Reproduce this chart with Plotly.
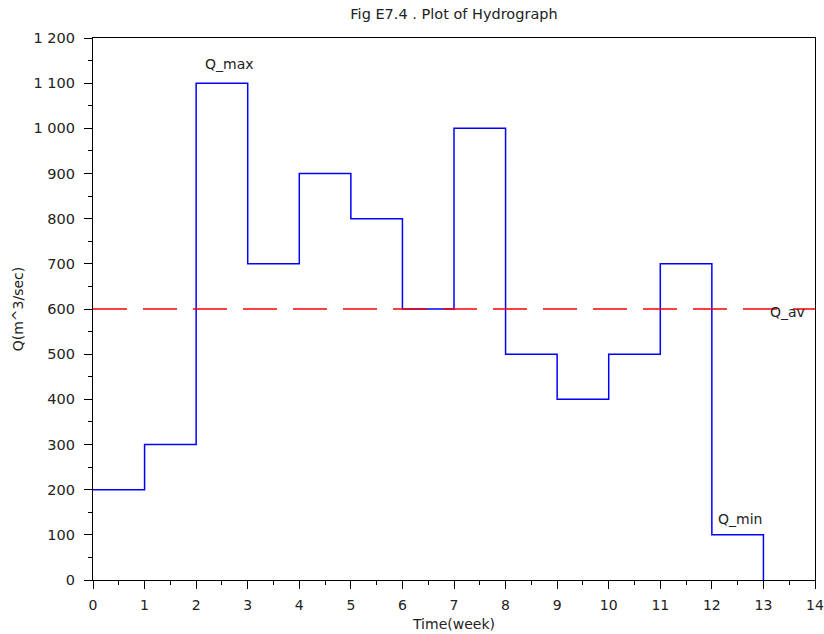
import plotly.graph_objects as go

weeks = [0, 1, 2, 3, 4, 5, 6, 7, 8, 9, 10, 11, 12, 13]
flows = [200, 300, 1100, 700, 900, 800, 600, 1000, 500, 400, 500, 700, 100, 0]
q_av = 600
avg_x = [0, 14]
labels = ["Q_max", "Q_min", "Q_av"]
label_x = [2.64, 12.55, 13.46]
label_y = [1142, 135, 593]

FONT = "DejaVu Sans, Liberation Sans, sans-serif"

fig = go.Figure()
fig.add_trace(go.Scatter(x=weeks, y=flows, mode="lines", line_shape="hv",
                         line=dict(color="#0000ff", width=1.5), showlegend=False))
fig.add_trace(go.Scatter(x=avg_x, y=[q_av, q_av], mode="lines",
                         line=dict(color="#ff0000", width=1.5, dash="34px,16px"),
                         showlegend=False))
for t, xx, yy in zip(labels, label_x, label_y):
    fig.add_annotation(x=xx, y=yy, text=t, showarrow=False,
                       font=dict(size=14, color="#222", family=FONT))

fig.update_layout(
    width=824, height=634,
    margin=dict(l=93, r=9, t=38, b=54, autoexpand=False),
    paper_bgcolor="white", plot_bgcolor="white",
    separators=". ",
    font=dict(family=FONT, size=12, color="#222"),
    title=dict(text="Fig E7.4 . Plot of Hydrograph", x=0.5, xref="paper",
               yref="container", y=1 - 14 / 634, yanchor="middle",
               automargin=False, font=dict(size=14.5)),
)
fig.update_xaxes(range=[0, 14], dtick=1, tick0=0, showgrid=False, zeroline=False,
                 automargin=False,
                 showline=True, linecolor="black", linewidth=1.2, mirror=True,
                 ticks="outside", ticklen=8, tickcolor="black",
                 ticklabelstandoff=4,
                 minor=dict(ticks="outside", ticklen=4, dtick=0.5, tickcolor="black"),
                 tickfont=dict(size=14),
                 title=dict(text="Time(week)", font=dict(size=14), standoff=7))
fig.update_yaxes(range=[0, 1200], dtick=100, tick0=0, tickformat=",d",
                 automargin=False,
                 showgrid=False, zeroline=False,
                 showline=True, linecolor="black", linewidth=1.2, mirror=True,
                 ticks="outside", ticklen=8, tickcolor="black",
                 ticklabelstandoff=6,
                 minor=dict(ticks="outside", ticklen=4, dtick=50, tickcolor="black"),
                 tickfont=dict(size=14.5),
                 title=dict(text="Q(m^3/sec)", font=dict(size=14), standoff=6))

fig.write_html("out.html", config={"displayModeBar": False},
               post_script="document.body.style.margin='0';document.body.style.overflow='hidden';")
